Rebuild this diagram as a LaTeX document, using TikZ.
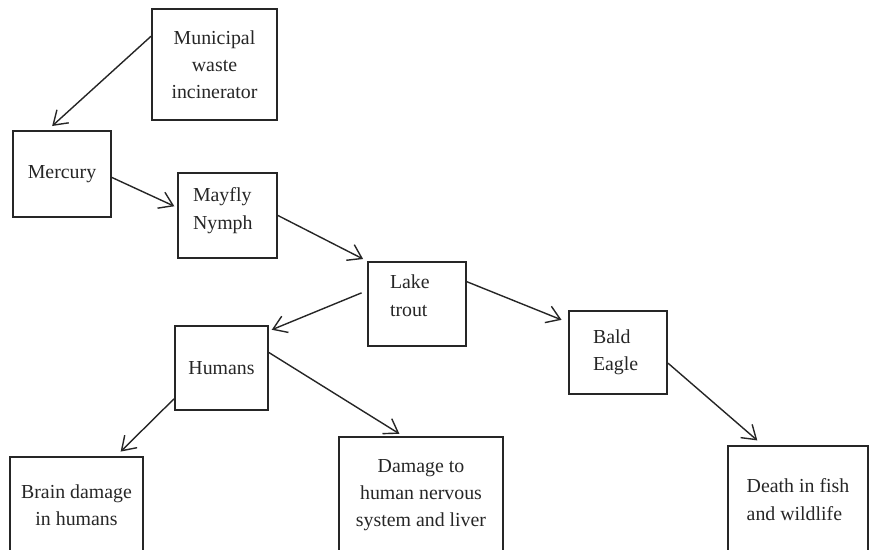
\documentclass[tikz,border=0pt]{standalone}
\usepackage{fontspec}
\setmainfont{Liberation Serif}
\usepackage{tikz}
\usetikzlibrary{arrows.meta,positioning}

\begin{document}
\begin{tikzpicture}[x=0.02cm,y=-0.02cm,
        box/.style={draw=black!85, line width=1.1pt, text=black!85, inner sep=2pt,
            font=\fontsize{11.3}{15.5}\selectfont},
        link/.style={draw=black!85, line width=0.8pt,
            -{Straight Barb[length=7.5pt,width=10pt]}}]
        % Page frame
        \useasboundingbox (0,0) rectangle (869,550);
        \clip (0,0) rectangle (869,550);

        % Source and path of mercury
        \node[box, minimum width=2.5cm, minimum height=2.22cm, align=center] (muni) at (214.5,64.5) {Municipal\\waste\\incinerator};
        \node[box, minimum width=1.96cm, minimum height=1.72cm] (merc) at (62,174) {Mercury};
        \node[box, minimum width=1.98cm, minimum height=1.7cm, align=left, text width=1.38cm, text depth=23.5pt] (mayfly) at (227.5,215.5) {Mayfly\\Nymph};
        \node[box, minimum width=1.96cm, minimum height=1.68cm, align=left, text width=1.08cm, text depth=25pt] (trout) at (417,304) {Lake\\trout};
        \node[box, minimum width=1.96cm, minimum height=1.66cm, align=left, text width=1.0cm] (eagle) at (618,352.5) {Bald\\Eagle};
        \node[box, minimum width=1.86cm, minimum height=1.68cm] (humans) at (221.5,368) {Humans};

        % Effects (cut by the page bottom)
        \node[box, minimum width=2.66cm, minimum height=1.92cm, align=center] (brain) at (76.5,505) {Brain damage\\in humans};
        \node[box, minimum width=3.28cm, minimum height=2.32cm, align=center] (nerve) at (421,495) {Damage to\\human nervous\\system and liver};
        \node[box, minimum width=2.8cm, minimum height=2.14cm, align=left] (death) at (798,499.5) {Death in fish\\and wildlife};

        % Links
        \draw[link, shorten >=3.4pt] (muni.156) -- (merc.108);
        \draw[link, shorten >=1.7pt] (merc.-4) -- (mayfly.171);
        \draw[link, shorten >=2.5pt] (mayfly.east) -- (trout.north west);
        \draw[link, shorten <=3.4pt, shorten >=1.7pt] (trout.165) -- (humans.38);
        \draw[link, shorten >=4pt] (trout.24) -- (eagle.149);
        \draw[link, shorten >=3.6pt] (humans.213) -- (brain.51);
        \draw[link, shorten >=2.4pt] (humans.18) -- (nerve.107);
        \draw[link, shorten >=4pt] (eagle.-12) -- (death.123);
\end{tikzpicture}
\end{document}
